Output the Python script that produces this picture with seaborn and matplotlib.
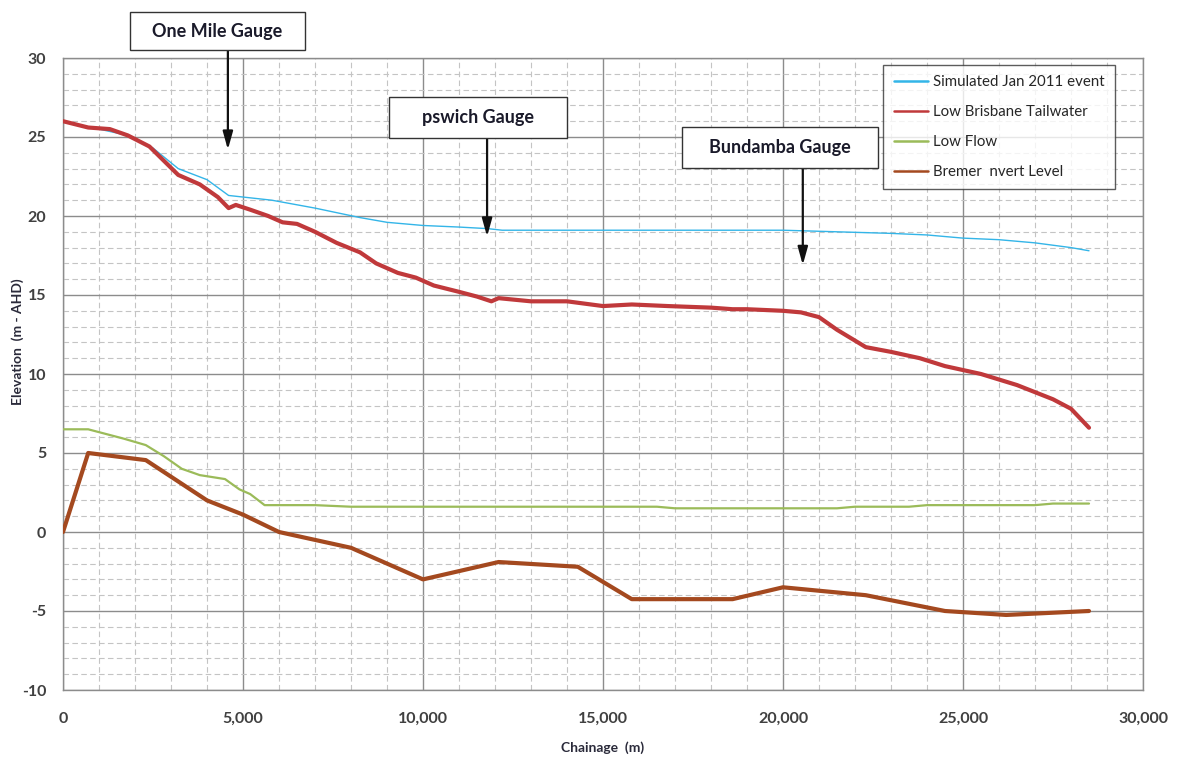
import matplotlib
matplotlib.use("Agg")
import matplotlib.pyplot as plt
import seaborn as sns
import pandas as pd
from matplotlib.ticker import MultipleLocator, FuncFormatter
from matplotlib.patches import Rectangle

sim_x = [0, 1000, 1800, 2500, 3200, 4000, 4600, 5000, 5800, 7000, 8250, 9000, 10000, 11000, 11800, 12200,
         14000, 16000, 18000, 20000, 21500, 23000, 24000, 25000, 26000, 27000, 28000, 28500]
sim_y = [26.0, 25.5, 25.1, 24.3, 23.0, 22.3, 21.3, 21.2, 21.0, 20.5, 19.9, 19.6, 19.4, 19.3, 19.2, 19.1,
         19.1, 19.1, 19.1, 19.1, 19.0, 18.9, 18.8, 18.6, 18.5, 18.3, 18.0, 17.8]

tail_x = [0, 700, 1300, 1800, 2400, 3200, 3800, 4300, 4600, 4800, 5200, 5700, 6100, 6500, 7000, 7600, 8250,
          8700, 9300, 9800, 10300, 11000, 11500, 11900, 12100, 13000, 14000, 15000, 15800, 16800, 18000,
          18600, 19000, 20000, 20500, 21000, 21500, 22300, 23000, 23800, 24500, 25500, 26500, 27500, 28000, 28500]
tail_y = [26.0, 25.6, 25.5, 25.1, 24.4, 22.6, 22.0, 21.2, 20.5, 20.7, 20.4, 20.0, 19.6, 19.5, 19.0, 18.3, 17.7,
          17.0, 16.4, 16.1, 15.6, 15.2, 14.9, 14.6, 14.8, 14.6, 14.6, 14.3, 14.4, 14.3, 14.2,
          14.1, 14.1, 14.0, 13.9, 13.6, 12.8, 11.7, 11.4, 11.0, 10.5, 10.0, 9.3, 8.4, 7.8, 6.6]

flow_x = [0, 700, 1700, 2300, 2800, 3300, 3800, 4500, 4900, 5200, 5600, 7000, 8000, 12000, 16500, 17000,
          21500, 22000, 23500, 24000, 27000, 27500, 28500]
flow_y = [6.5, 6.5, 5.9, 5.5, 4.8, 4.0, 3.6, 3.35, 2.7, 2.4, 1.7, 1.7, 1.6, 1.6, 1.6, 1.5,
          1.5, 1.6, 1.6, 1.7, 1.7, 1.8, 1.8]

inv_x = [0, 700, 2300, 4000, 5000, 6000, 8000, 10000, 12100, 14300, 15800, 18600, 20000, 22300, 24500, 26200, 28500]
inv_y = [0, 5.0, 4.55, 2.0, 1.1, 0.0, -1.0, -3.0, -1.9, -2.2, -4.25, -4.25, -3.5, -4.0, -5.0, -5.25, -5.0]

series_names = ["Simulated Jan 2011 event", "Low Brisbane Tailwater", "Low Flow", "Bremer  nvert Level"]

gauge_labels = ["One Mile Gauge", "pswich Gauge", "Bundamba Gauge"]
gauge_x = [4580, 11780, 20550]
gauge_head_y = [24.2, 18.7, 16.9]

W, H = 1186, 765
sns.set_theme(style="white")
plt.rcParams['font.family'] = ['Lato', 'DejaVu Sans']
plt.rcParams['axes.unicode_minus'] = False

fig = plt.figure(figsize=(W / 100, H / 100), dpi=100)
ax = fig.add_axes([63 / W, 1 - 690 / H, (1143 - 63) / W, (690 - 58) / H])

data = [(sim_x, sim_y, "#33B5E8", 1.0),
        (tail_x, tail_y, "#C0393B", 3.0),
        (flow_x, flow_y, "#9BBB59", 1.6),
        (inv_x, inv_y, "#A4491F", 3.0)]
for (xs, ys, c, lw), name in zip(data, series_names):
    df = pd.DataFrame({"Chainage": xs, "Elevation": ys})
    sns.lineplot(data=df, x="Chainage", y="Elevation", ax=ax, color=c, linewidth=lw,
                 label=name, sort=False, estimator=None, zorder=3)

ax.set_xlim(0, 30000)
ax.set_ylim(-10, 30)
ax.xaxis.set_major_locator(MultipleLocator(5000))
ax.xaxis.set_minor_locator(MultipleLocator(1000))
ax.yaxis.set_major_locator(MultipleLocator(5))
ax.yaxis.set_minor_locator(MultipleLocator(1))
ax.xaxis.set_major_formatter(FuncFormatter(lambda v, p: f"{int(v):,}"))
ax.grid(which="major", color="#8c8c8c", linewidth=1.0, linestyle="-", zorder=0)
ax.grid(which="minor", color="#c4c4c4", linewidth=0.8, linestyle=(0, (5, 3)), zorder=0)
ax.set_axisbelow(True)
for s in ax.spines.values():
    s.set_color("#8c8c8c")
    s.set_linewidth(1.0)
ax.tick_params(axis="x", which="major", labelsize=11.5, colors="#404040", length=0, pad=16)
ax.tick_params(axis="y", which="major", labelsize=11.5, colors="#404040", length=0, pad=12)
ax.tick_params(which="minor", length=0)
for lab in ax.get_xticklabels() + ax.get_yticklabels():
    lab.set_fontweight("bold")
ax.set_xlabel("Chainage  (m)", fontsize=10, fontweight="bold", color="#2a2a3a")
ax.set_ylabel("Elevation  (m - AHD)", fontsize=10, fontweight="bold", color="#2a2a3a")
ax.yaxis.set_label_coords((18 - 63) / 1080, (690 - 342) / 632)
ax.xaxis.set_label_coords(0.5, -(748 - 690) / 632)
ax.xaxis.label.set_va("center")
ax.yaxis.label.set_va("center")

leg = ax.legend(loc="upper right", bbox_to_anchor=(1 - 28 / 1080, 1 - 7 / 632), frameon=True, fancybox=False,
                fontsize=10.8, handlelength=2.3, labelspacing=1.05, borderpad=0.7, handletextpad=0.3,
                borderaxespad=0)
leg.get_frame().set_edgecolor("#333333")
leg.get_frame().set_linewidth(1.0)
for h in leg.get_lines():
    h.set_linewidth(1.8)

# annotation boxes (pixel layout: left, top, right, bottom)
boxes = [(130, 12, 305, 50), (389, 97, 567, 138), (682, 127, 878, 168)]
for lab, gx, hy, (l, t, r, b) in zip(gauge_labels, gauge_x, gauge_head_y, boxes):
    rect = Rectangle((l / W, 1 - b / H), (r - l) / W, (b - t) / H, transform=fig.transFigure,
                     facecolor="white", edgecolor="#333333", linewidth=1.0, zorder=6)
    fig.add_artist(rect)
    fig.text((l + r) / 2 / W, 1 - (t + b) / 2 / H, lab, ha="center", va="center", fontsize=13,
             fontweight="bold", color="#1a1a2a", zorder=7)
    ax.annotate("", xy=(gx, hy), xycoords="data", xytext=(ax.transData.transform((gx, 0))[0] / W, 1 - b / H),
                textcoords="figure fraction",
                arrowprops=dict(arrowstyle="-|>,head_length=0.9,head_width=0.25", color="#111111",
                                linewidth=1.6, shrinkA=0, shrinkB=0),
                annotation_clip=False, zorder=5)

fig.savefig("out.png", dpi=100)
